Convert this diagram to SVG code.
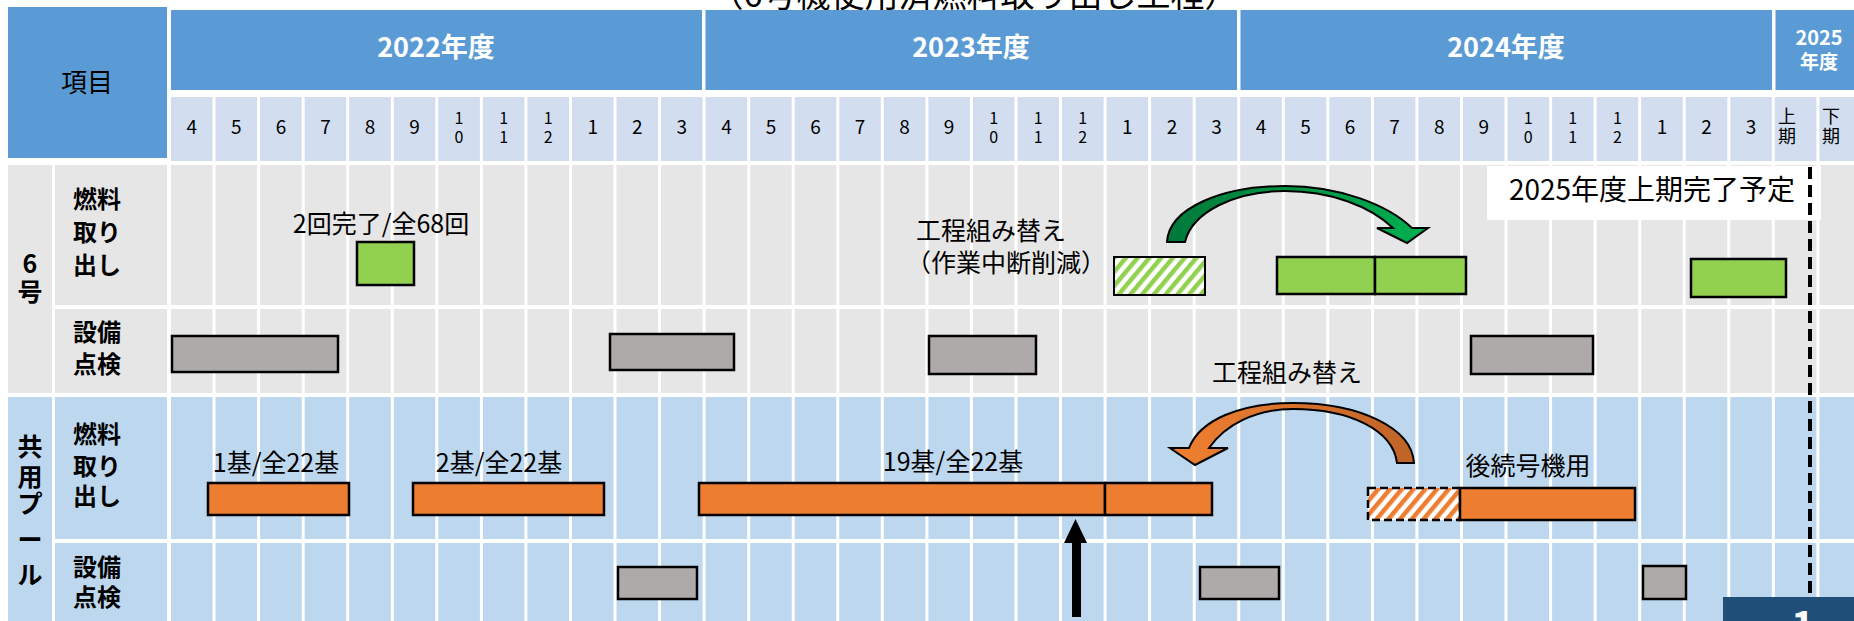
<svg xmlns="http://www.w3.org/2000/svg" width="1854" height="621" viewBox="0 0 1854 621">
<style>
text{font-family:"Noto Sans CJK JP","Noto Sans",sans-serif;fill:#000}
.hd{fill:#5B9BD5}
.yr{fill:#fff;font-weight:bold;font-size:27px;text-anchor:middle}
.mo{font-size:19px;text-anchor:middle}
.ms{font-size:16px;text-anchor:middle}
.lb{font-size:24px;font-weight:bold}
.lc{font-size:25px;font-weight:bold;text-anchor:middle}
.note{font-size:25px}
.notem{font-size:25px;text-anchor:middle}
.g6{fill:#E7E6E6}
.gp{fill:#BDD7EE}
.bar{stroke:#000;stroke-width:2.5}
.grn{fill:#92D050}
.org{fill:#ED7D31}
.gry{fill:#AEAAAA}
</style>
<defs>
<pattern id="hg" width="9" height="9" patternUnits="userSpaceOnUse" patternTransform="rotate(40)">
<rect width="9" height="9" fill="#fff"/><rect width="4.5" height="9" fill="#92D050"/>
</pattern>
<pattern id="ho" width="9" height="9" patternUnits="userSpaceOnUse" patternTransform="rotate(40)">
<rect width="9" height="9" fill="#fff"/><rect width="4.5" height="9" fill="#ED7D31"/>
</pattern>
<linearGradient id="gg" x1="0" y1="0" x2="1" y2="0">
<stop offset="0" stop-color="#00783A"/><stop offset="1" stop-color="#00B050"/>
</linearGradient>
<linearGradient id="og" x1="0" y1="0" x2="1" y2="0">
<stop offset="0" stop-color="#F08030"/><stop offset="1" stop-color="#BF6328"/>
</linearGradient>
</defs>
<rect width="1854" height="621" fill="#fff"/>
<text x="974" y="7" font-size="34" text-anchor="middle">（6号機使用済燃料取り出し工程）</text>

<g id="header">
<rect class="hd" x="8" y="7" width="159" height="151"/>
<text x="87" y="92" font-size="26" text-anchor="middle">項目</text>
<rect class="hd" x="171" y="10" width="531" height="80"/>
<rect class="hd" x="705.5" y="10" width="531.5" height="80"/>
<rect class="hd" x="1240.5" y="10" width="531.5" height="80"/>
<rect class="hd" x="1775.5" y="10" width="78.5" height="80"/>
<text class="yr" x="436" y="57">2022年度</text>
<text class="yr" x="971" y="57">2023年度</text>
<text class="yr" x="1506" y="57">2024年度</text>
<text class="yr" x="1819" y="45" style="font-size:20px">2025<tspan x="1819" y="69" style="font-size:19px">年度</tspan></text>
</g>

<g id="rows">
<rect x="171" y="97" width="1683" height="64" fill="#D2DEEF"/>
<rect class="g6" x="171" y="165" width="1683" height="140"/>
<rect class="g6" x="171" y="309" width="1683" height="84"/>
<rect class="gp" x="171" y="397" width="1683" height="142"/>
<rect class="gp" x="171" y="543" width="1683" height="78"/>
<path stroke="#fff" stroke-width="3" fill="none" d="M214 97V621M258.6 97V621M303.2 97V621M347.7 97V621M392.3 97V621M436.8 97V621M481.4 97V621M525.9 97V621M570.5 97V621M615 97V621M659.6 97V621M704.1 97V621M748.7 97V621M793.2 97V621M837.8 97V621M882.3 97V621M926.9 97V621M971.4 97V621M1016 97V621M1060.5 97V621M1105.1 97V621M1149.6 97V621M1194.2 97V621M1238.7 97V621M1283.3 97V621M1327.8 97V621M1372.4 97V621M1416.9 97V621M1461.5 97V621M1506 97V621M1550.6 97V621M1595.1 97V621M1639.7 97V621M1684.2 97V621M1728.8 97V621M1773.3 97V621M1817.9 97V621"/>
</g>

<g id="months">
<text class="mo" x="191.8" y="134">4</text>
<text class="mo" x="236.3" y="134">5</text>
<text class="mo" x="280.9" y="134">6</text>
<text class="mo" x="325.4" y="134">7</text>
<text class="mo" x="370" y="134">8</text>
<text class="mo" x="414.5" y="134">9</text>
<text class="ms" x="459" y="124">1<tspan x="459" y="143">0</tspan></text>
<text class="ms" x="503.6" y="124">1<tspan x="503.6" y="143">1</tspan></text>
<text class="ms" x="548.2" y="124">1<tspan x="548.2" y="143">2</tspan></text>
<text class="mo" x="592.7" y="134">1</text>
<text class="mo" x="637.3" y="134">2</text>
<text class="mo" x="681.8" y="134">3</text>
<text class="mo" x="726.4" y="134">4</text>
<text class="mo" x="770.9" y="134">5</text>
<text class="mo" x="815.5" y="134">6</text>
<text class="mo" x="860" y="134">7</text>
<text class="mo" x="904.6" y="134">8</text>
<text class="mo" x="949.1" y="134">9</text>
<text class="ms" x="993.7" y="124">1<tspan x="993.7" y="143">0</tspan></text>
<text class="ms" x="1038.2" y="124">1<tspan x="1038.2" y="143">1</tspan></text>
<text class="ms" x="1082.8" y="124">1<tspan x="1082.8" y="143">2</tspan></text>
<text class="mo" x="1127.3" y="134">1</text>
<text class="mo" x="1171.9" y="134">2</text>
<text class="mo" x="1216.4" y="134">3</text>
<text class="mo" x="1261" y="134">4</text>
<text class="mo" x="1305.5" y="134">5</text>
<text class="mo" x="1350.1" y="134">6</text>
<text class="mo" x="1394.6" y="134">7</text>
<text class="mo" x="1439.2" y="134">8</text>
<text class="mo" x="1483.7" y="134">9</text>
<text class="ms" x="1528.3" y="124">1<tspan x="1528.3" y="143">0</tspan></text>
<text class="ms" x="1572.8" y="124">1<tspan x="1572.8" y="143">1</tspan></text>
<text class="ms" x="1617.4" y="124">1<tspan x="1617.4" y="143">2</tspan></text>
<text class="mo" x="1661.9" y="134">1</text>
<text class="mo" x="1706.5" y="134">2</text>
<text class="mo" x="1751" y="134">3</text>
<text class="ms" x="1787" y="123" style="font-size:18px">上<tspan x="1787" y="143">期</tspan></text>
<text class="ms" x="1831" y="123" style="font-size:18px">下<tspan x="1831" y="143">期</tspan></text>
</g>

<g id="unit6">
<rect class="g6" x="8" y="165" width="44" height="228"/>
<rect class="g6" x="55" y="165" width="112" height="140"/>
<rect class="g6" x="55" y="309" width="112" height="84"/>
<text class="lc" x="30" y="273">6<tspan x="30" y="301">号</tspan></text>
<text class="lb" x="73" y="208">燃料<tspan x="73" y="241">取り</tspan><tspan x="73" y="274">出し</tspan></text>
<text class="lb" x="73" y="341">設備<tspan x="73" y="373">点検</tspan></text>
</g>

<g id="pool">
<rect class="gp" x="8" y="397" width="44" height="224"/>
<rect class="gp" x="55" y="397" width="112" height="142"/>
<rect class="gp" x="55" y="543" width="112" height="78"/>
<text class="lc" x="30" y="456">共<tspan x="30" y="486">用</tspan><tspan x="30" y="513">プ</tspan><tspan x="30" y="549">ー</tspan><tspan x="30" y="584">ル</tspan></text>
<text class="lb" x="73" y="443">燃料<tspan x="73" y="475">取り</tspan><tspan x="73" y="505">出し</tspan></text>
<text class="lb" x="73" y="576">設備<tspan x="73" y="606">点検</tspan></text>
</g>

<g id="fuel6">
<rect class="bar grn" x="357" y="242" width="57" height="43"/>
<text class="notem" x="381" y="233">2回完了/全68回</text>
<rect x="1114" y="257" width="91" height="38" fill="url(#hg)" stroke="#000" stroke-width="2"/>
<text class="note" x="916" y="240">工程組み替え<tspan x="906" y="272">（作業中断削減）</tspan></text>
<rect class="bar grn" x="1277" y="257" width="98" height="37"/>
<rect class="bar grn" x="1375" y="257" width="91" height="37"/>
<rect class="bar grn" x="1691" y="259" width="95" height="38"/>
</g>

<g id="insp6">
<rect class="bar gry" x="172" y="336" width="166" height="36"/>
<rect class="bar gry" x="610" y="334" width="124" height="36"/>
<rect class="bar gry" x="929" y="336" width="107" height="38"/>
<rect class="bar gry" x="1471" y="336" width="122" height="38"/>
</g>

<g id="fuelpool">
<rect class="bar org" x="208" y="483" width="141" height="32"/>
<text class="notem" x="276" y="472">1基/全22基</text>
<rect class="bar org" x="413" y="483" width="191" height="32"/>
<text class="notem" x="499" y="472">2基/全22基</text>
<rect class="bar org" x="699" y="483" width="406" height="32"/>
<rect class="bar org" x="1105" y="483" width="107" height="32"/>
<text class="notem" x="953" y="471">19基/全22基</text>
<text class="note" x="1212" y="382">工程組み替え</text>
<rect x="1368" y="488" width="92" height="32" fill="url(#ho)" stroke="#000" stroke-width="2.5" stroke-dasharray="8 4"/>
<rect class="bar org" x="1460" y="488" width="175" height="32"/>
<text class="notem" x="1528" y="475">後続号機用</text>
</g>

<g id="insppool">
<rect class="bar gry" x="618" y="567" width="79" height="32"/>
<rect class="bar gry" x="1200" y="567" width="79" height="32"/>
<rect class="bar gry" x="1643" y="566" width="43" height="33"/>
</g>

<g id="target">
<rect x="1487" y="166" width="334" height="54" fill="#fff"/>
<text x="1652" y="200" font-size="28" text-anchor="middle">2025年度上期完了予定</text>
</g>

<g id="connectors">
<line x1="1810" y1="167" x2="1810" y2="593" stroke="#000" stroke-width="4" stroke-dasharray="12 6"/>
<path d="M1167 242C1169 208 1222 186 1285 186C1340 186 1388 205 1412 228L1428 228L1407 243L1377 228L1393 228C1370 206 1330 191 1285 191C1235 191 1192 212 1185 242Z" fill="url(#gg)" stroke="#000" stroke-width="2"/>
<path d="M1414 463C1412 428 1360 403 1293 403C1240 403 1200 420 1189 448L1170 448L1195 465L1228 448L1209 448C1225 425 1255 409 1293 409C1350 409 1393 430 1397 463Z" fill="url(#og)" stroke="#000" stroke-width="2"/>
<path d="M1072 543H1064L1075.5 519L1087 543H1081V617H1072Z" fill="#000"/>
</g>

<g id="page">
<rect x="1723" y="597" width="131" height="24" fill="#1F4E79"/>
<text x="1803" y="640" font-size="40" font-weight="bold" text-anchor="middle" style="fill:#fff">1</text>
</g>
</svg>
